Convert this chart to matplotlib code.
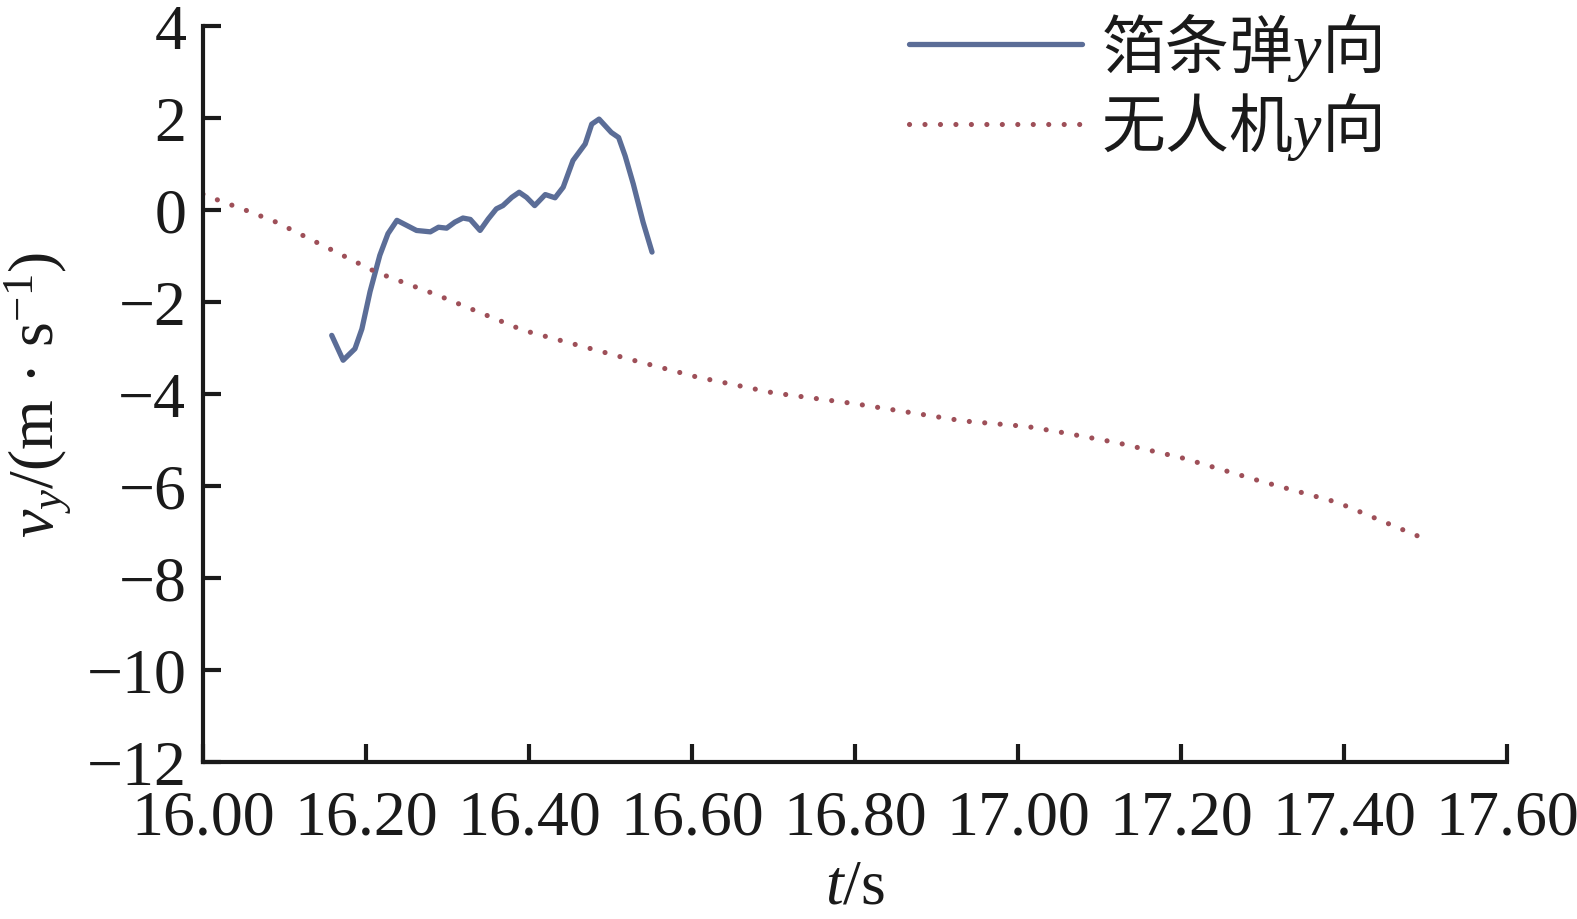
import matplotlib
matplotlib.use("Agg")
import matplotlib.pyplot as plt

plt.rcParams['font.family'] = ['Liberation Serif', 'Noto Sans CJK SC']
plt.rcParams['mathtext.fontset'] = 'custom'
plt.rcParams['mathtext.rm'] = 'Liberation Serif'
plt.rcParams['mathtext.it'] = 'Liberation Serif:italic'
plt.rcParams['mathtext.sf'] = 'Noto Sans CJK SC'
plt.rcParams['axes.unicode_minus'] = True

# 箔条弹 y 向 velocity
chaff_t = [16.158, 16.172, 16.1865, 16.195, 16.205, 16.217, 16.227, 16.238, 16.250, 16.262,
           16.279, 16.289, 16.299, 16.309, 16.319, 16.328, 16.340, 16.350, 16.360, 16.368,
           16.379, 16.388, 16.397, 16.407, 16.420, 16.432, 16.442, 16.454, 16.469, 16.477,
           16.486, 16.501, 16.510, 16.518, 16.528, 16.540, 16.551]
chaff_v = [-2.73, -3.27, -3.02, -2.59, -1.78, -0.99, -0.52, -0.23, -0.34, -0.45,
           -0.48, -0.38, -0.40, -0.27, -0.18, -0.21, -0.45, -0.20, 0.02, 0.09,
           0.27, 0.38, 0.27, 0.09, 0.33, 0.26, 0.49, 1.07, 1.43, 1.86,
           1.97, 1.68, 1.57, 1.17, 0.56, -0.27, -0.92]

# 无人机 y 向 velocity
uav_t = [16.00, 16.017, 16.054, 16.090, 16.160, 16.213, 16.287, 16.393, 16.528, 16.605,
         16.700, 16.798, 16.933, 17.011, 17.051, 17.121, 17.203, 17.298, 17.392, 17.465, 17.50]
uav_v = [0.34, 0.22, -0.02, -0.27, -0.89, -1.36, -1.85, -2.62, -3.27, -3.63,
         -3.98, -4.21, -4.59, -4.71, -4.83, -5.06, -5.40, -5.90, -6.36, -6.90, -7.16]

x_ticks = [16.00, 16.20, 16.40, 16.60, 16.80, 17.00, 17.20, 17.40, 17.60]
x_ticklabels = ['16.00', '16.20', '16.40', '16.60', '16.80', '17.00', '17.20', '17.40', '17.60']
y_ticks = [4, 2, 0, -2, -4, -6, -8, -10, -12]

labels = [r'$\mathsf{箔条弹}y\mathsf{向}$', r'$\mathsf{无人机}y\mathsf{向}$']

fig = plt.figure(figsize=(15.77, 9.2), dpi=100)
ax = fig.add_axes([0.1287, 0.1707, 0.9556 - 0.1287, 0.971 - 0.1707])

ax.plot(chaff_t, chaff_v, color='#5b6d97', lw=3.8, label=labels[0], solid_capstyle='round',
        solid_joinstyle='round')
ax.plot(uav_t, uav_v, color='#9e4f58', lw=3.7, linestyle=(0, (0.01, 3.0)),
        dash_capstyle='round', label=labels[1])

ax.set_xlim(16.0, 17.6)
ax.set_ylim(-12, 4)
ax.set_xticks(x_ticks)
ax.set_xticklabels(x_ticklabels)
ax.set_yticks(y_ticks)
ax.set_yticklabels([('−' + str(abs(v))) if v < 0 else str(v) for v in y_ticks])

for s in ['top', 'right']:
    ax.spines[s].set_visible(False)
for s in ['left', 'bottom']:
    ax.spines[s].set_linewidth(3.0)
    ax.spines[s].set_color('#1a1a1a')

ax.tick_params(direction='in', length=13, width=3.0, color='#1a1a1a',
               labelsize=46, labelcolor='#1a1a1a')
ax.tick_params(axis='y', pad=12)
ax.tick_params(axis='x', pad=20)

ax.set_xlabel('$t$/s', fontsize=46, color='#1a1a1a', labelpad=8)
ax.set_ylabel('$v_y$/(m · s$^{-1}$)', fontsize=46, color='#1a1a1a', labelpad=10)

leg = ax.legend(loc='upper right', bbox_to_anchor=(0.912, 1.05), bbox_transform=fig.transFigure,
                frameon=False, fontsize=46, handlelength=2.7, handletextpad=0.3,
                labelspacing=0.12)
for t in leg.get_texts():
    t.set_color('#1a1a1a')

fig.savefig('out.png', dpi=100)
